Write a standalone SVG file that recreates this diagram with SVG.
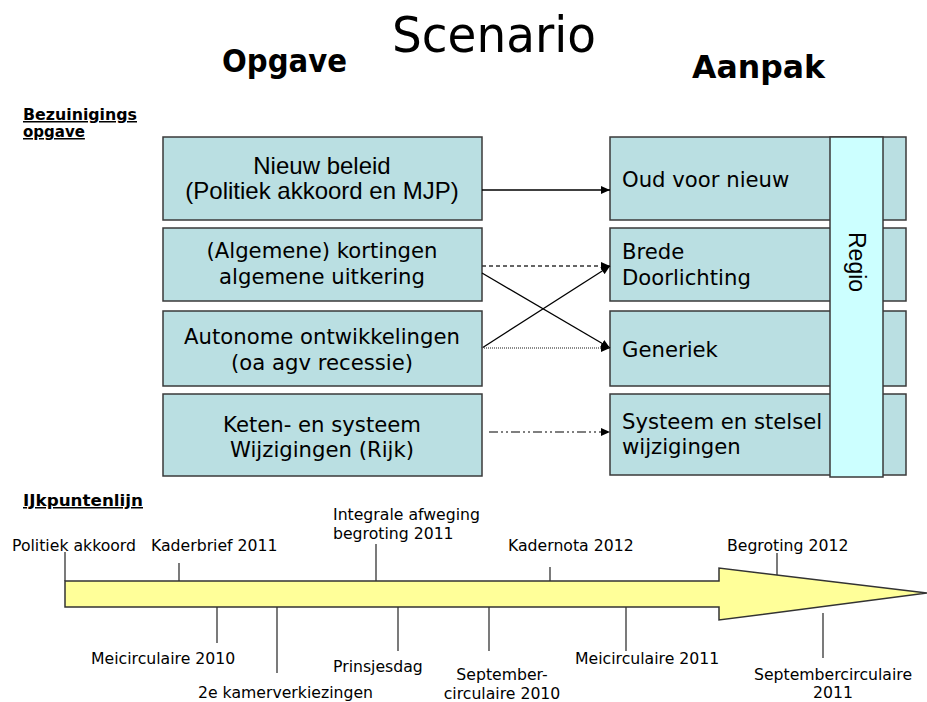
<svg xmlns="http://www.w3.org/2000/svg" width="927" height="702" viewBox="0 0 927 702">
<defs>
<marker id="ah" markerUnits="userSpaceOnUse" markerWidth="10" markerHeight="8" refX="9" refY="4" orient="auto">
<path d="M0,0 L9,4 L0,8 Z" fill="#000"/>
</marker>
<style>
.box{fill:#badfe2;stroke:#3a3a3a;stroke-width:1.5}
.regio{fill:#ccffff;stroke:#3a3a3a;stroke-width:1.5}
.arial{font-family:"Liberation Sans",Arial,sans-serif;fill:#000}
.verd{font-family:"DejaVu Sans",Verdana,sans-serif;fill:#000}
.bt{font-size:21.2px}
.tl{font-size:15.7px}
.tick{stroke:#333;stroke-width:1.3}
.hd{font-family:"DejaVu Sans",Verdana,sans-serif;font-weight:bold;fill:#000}
.c{text-anchor:middle}
</style>
</defs>
<rect width="927" height="702" fill="#fff"/>

<g id="titles">
<text class="verd" x="392" y="52" font-size="50" textLength="204" lengthAdjust="spacingAndGlyphs">Scenario</text>
<text class="hd" x="222" y="72" font-size="32" textLength="125" lengthAdjust="spacingAndGlyphs">Opgave</text>
<text class="hd" x="692" y="78" font-size="32" textLength="133" lengthAdjust="spacingAndGlyphs">Aanpak</text>
<text class="hd" x="23" y="120" font-size="15" text-decoration="underline" textLength="114" lengthAdjust="spacingAndGlyphs">Bezuinigings</text>
<text class="hd" x="23" y="137" font-size="15" text-decoration="underline">opgave</text>
<text class="hd" x="23" y="506" font-size="15" text-decoration="underline" textLength="120" lengthAdjust="spacingAndGlyphs">IJkpuntenlijn</text>
</g>

<g id="opgave-nieuw-beleid">
<rect class="box" x="163" y="137" width="319" height="83"/>
<text class="arial c" x="322" y="174" font-size="24">Nieuw beleid</text>
<text class="arial c" x="322" y="199" font-size="24">(Politiek akkoord en MJP)</text>
</g>
<g id="opgave-kortingen">
<rect class="box" x="163" y="228" width="319" height="73"/>
<text class="verd bt c" x="322" y="258">(Algemene) kortingen</text>
<text class="verd bt c" x="322" y="284">algemene uitkering</text>
</g>
<g id="opgave-autonoom">
<rect class="box" x="163" y="311" width="319" height="75"/>
<text class="verd bt c" x="322" y="344">Autonome ontwikkelingen</text>
<text class="verd bt c" x="322" y="370">(oa agv recessie)</text>
</g>
<g id="opgave-keten">
<rect class="box" x="163" y="394" width="319" height="82"/>
<text class="verd bt c" x="322" y="432">Keten- en systeem</text>
<text class="verd bt c" x="322" y="457">Wijzigingen (Rijk)</text>
</g>

<g id="aanpak-oud-voor-nieuw">
<rect class="box" x="610" y="137" width="296" height="83"/>
<text class="verd bt" x="622" y="187">Oud voor nieuw</text>
</g>
<g id="aanpak-brede-doorlichting">
<rect class="box" x="610" y="228" width="296" height="73"/>
<text class="verd bt" x="622" y="259">Brede</text>
<text class="verd bt" x="622" y="285">Doorlichting</text>
</g>
<g id="aanpak-generiek">
<rect class="box" x="610" y="311" width="296" height="75"/>
<text class="verd bt" x="622" y="357">Generiek</text>
</g>
<g id="aanpak-systeem">
<rect class="box" x="610" y="394" width="296" height="81"/>
<text class="verd bt" x="622" y="429">Systeem en stelsel</text>
<text class="verd bt" x="622" y="454">wijzigingen</text>
</g>
<g id="regio">
<rect class="regio" x="830" y="137" width="53" height="340"/>
<text class="arial" font-size="23" transform="translate(849,232) rotate(90)">Regio</text>
</g>

<g id="connectors" fill="none">
<line x1="482" y1="190" x2="610" y2="190" stroke="#000" stroke-width="1.3" marker-end="url(#ah)"/>
<line x1="482" y1="266" x2="610" y2="266" stroke="#333" stroke-width="1.3" stroke-dasharray="4 3" marker-end="url(#ah)"/>
<line x1="482" y1="273" x2="610" y2="348" stroke="#000" stroke-width="1.3" marker-end="url(#ah)"/>
<line x1="482" y1="348" x2="610" y2="266" stroke="#000" stroke-width="1.3" marker-end="url(#ah)"/>
<line x1="482" y1="348" x2="610" y2="348" stroke="#666" stroke-width="1.3" stroke-dasharray="1 1" marker-end="url(#ah)"/>
<line x1="489" y1="432" x2="610" y2="432" stroke="#555" stroke-width="1.3" stroke-dasharray="9 3 2 3 2 3" marker-end="url(#ah)"/>
</g>

<g id="tijdlijn">
<polygon points="65,581 719,581 719,568 927,593 719,620 719,607 65,607" fill="#ffff99" stroke="#333" stroke-width="1.5"/>
<g id="ticks">
<line class="tick" x1="65" y1="552" x2="65" y2="581"/>
<line class="tick" x1="179" y1="563" x2="179" y2="581"/>
<line class="tick" x1="376" y1="544" x2="376" y2="581"/>
<line class="tick" x1="550" y1="567" x2="550" y2="581"/>
<line class="tick" x1="777" y1="553" x2="777" y2="575"/>
<line class="tick" x1="217" y1="607" x2="217" y2="643"/>
<line class="tick" x1="277" y1="607" x2="277" y2="673"/>
<line class="tick" x1="398" y1="607" x2="398" y2="651"/>
<line class="tick" x1="489" y1="607" x2="489" y2="651"/>
<line class="tick" x1="626" y1="607" x2="626" y2="651"/>
<line class="tick" x1="823" y1="613" x2="823" y2="658"/>
</g>
<g id="tijdlijn-labels" class="verd tl">
<text x="12" y="551">Politiek akkoord</text>
<text x="151" y="551">Kaderbrief 2011</text>
<text x="333" y="520">Integrale afweging</text>
<text x="333" y="539">begroting 2011</text>
<text x="508" y="551">Kadernota 2012</text>
<text x="727" y="551">Begroting 2012</text>
<text x="91" y="664">Meicirculaire 2010</text>
<text x="198" y="698">2e kamerverkiezingen</text>
<text x="333" y="672">Prinsjesdag</text>
<text class="c" x="502" y="680">September-</text>
<text class="c" x="502" y="699">circulaire 2010</text>
<text x="575" y="664">Meicirculaire 2011</text>
<text class="c" x="833" y="680">Septembercirculaire</text>
<text class="c" x="833" y="698">2011</text>
</g>
</g>
</svg>
